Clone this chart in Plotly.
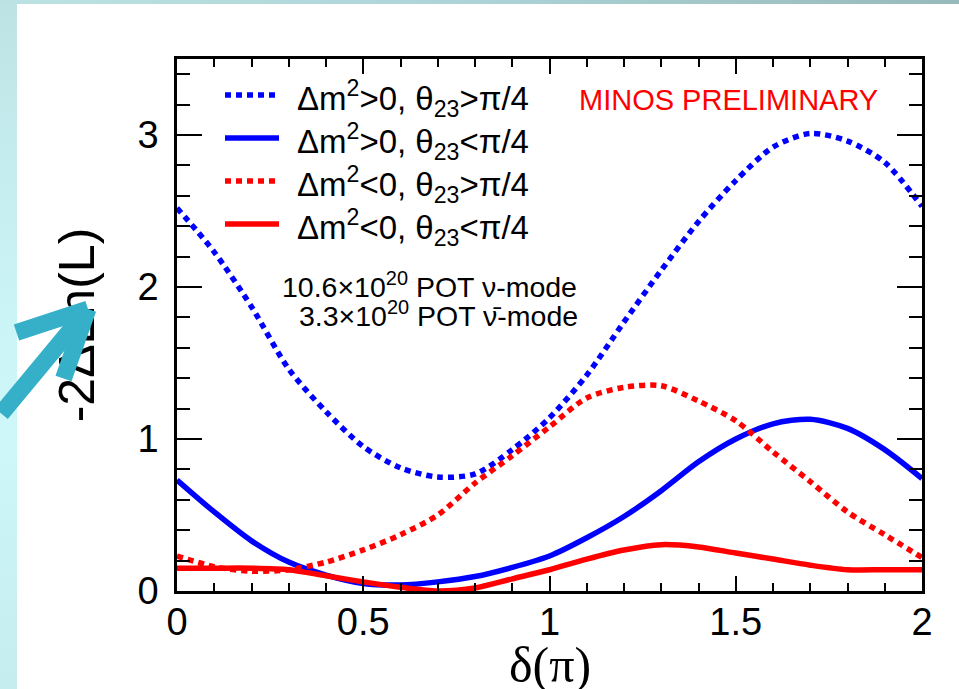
import base64
import plotly.graph_objects as go

# delta_CP in units of pi
delta = [0.0, 0.1, 0.2, 0.3, 0.4, 0.5, 0.6, 0.7, 0.8, 0.9, 1.0,
         1.1, 1.2, 1.3, 1.4, 1.5, 1.6, 1.7, 1.8, 1.9, 2.0]

# -2 Delta ln(L) profiles for the four hierarchy / octant combinations
nh_upper = [2.52, 2.23, 1.87, 1.46, 1.18, 0.95, 0.81, 0.75, 0.77, 0.93, 1.14,
            1.42, 1.77, 2.11, 2.43, 2.70, 2.92, 3.01, 2.96, 2.82, 2.53]
nh_lower = [0.73, 0.52, 0.33, 0.19, 0.105, 0.05, 0.04, 0.06, 0.095, 0.155, 0.23,
            0.35, 0.49, 0.66, 0.85, 1.00, 1.10, 1.13, 1.07, 0.93, 0.74]
ih_upper = [0.23, 0.16, 0.13, 0.14, 0.19, 0.27, 0.37, 0.50, 0.71, 0.89, 1.08,
            1.27, 1.34, 1.35, 1.25, 1.12, 0.915, 0.72, 0.52, 0.37, 0.22]
ih_lower = [0.15, 0.15, 0.15, 0.14, 0.10, 0.06, 0.025, 0.0, 0.02, 0.08, 0.14,
            0.21, 0.27, 0.305, 0.29, 0.25, 0.21, 0.17, 0.14, 0.14, 0.14]

series_names = [
    "Δm<sup>2</sup>&gt;0, θ<sub>23</sub>&gt;π/4",
    "Δm<sup>2</sup>&gt;0, θ<sub>23</sub>&lt;π/4",
    "Δm<sup>2</sup>&lt;0, θ<sub>23</sub>&gt;π/4",
    "Δm<sup>2</sup>&lt;0, θ<sub>23</sub>&lt;π/4",
]
series_values = [nh_upper, nh_lower, ih_upper, ih_lower]
series_colors = ["#0000ff", "#0000ff", "#ff0000", "#ff0000"]
series_dash = ["6px,5px", "solid", "6px,5px", "solid"]

x_ticks = [0, 0.5, 1, 1.5, 2]
x_tick_text = ["0", "0.5", "1", "1.5", "2"]
y_ticks = [0, 1, 2, 3]
y_tick_text = ["0", "1", "2", "3"]

# page geometry (pixels)
W, H = 959, 689
L, R, T, B = 177, 37, 59, 98
PW, PH = W - L - R, H - T - B


def px(xp):
    return (xp - L) / PW


def py(yp):
    return (H - B - yp) / PH


fig = go.Figure()

for name, vals, col, dash in zip(series_names, series_values, series_colors, series_dash):
    fig.add_trace(go.Scatter(
        x=delta, y=vals, mode="lines", name=name, showlegend=False,
        line=dict(color=col, width=5.5, dash=dash, shape="spline", smoothing=0.8),
        cliponaxis=False,
    ))

# slide backdrop: thin gradient bar on top, tinted band down the left edge
backdrop_svg = (
    "<svg xmlns='http://www.w3.org/2000/svg' width='959' height='689' "
    "viewBox='0 0 959 689' preserveAspectRatio='none'>"
    "<defs>"
    "<linearGradient id='t' x1='0' x2='1' y1='0' y2='0'>"
    "<stop offset='0' stop-color='#bde2e4'/><stop offset='0.5' stop-color='#acd3d6'/>"
    "<stop offset='1' stop-color='#98b9bb'/></linearGradient>"
    "<linearGradient id='l' x1='0' x2='0' y1='0' y2='1'>"
    "<stop offset='0' stop-color='#bee3e5'/><stop offset='0.45' stop-color='#cbf4f6'/>"
    "<stop offset='0.65' stop-color='#cdf7f9'/><stop offset='1' stop-color='#c5ecee'/>"
    "</linearGradient></defs>"
    "<rect x='0' y='0' width='17' height='689' fill='url(#l)'/>"
    "<rect x='0' y='0' width='959' height='4' fill='url(#t)'/>"
    "</svg>"
)
backdrop_uri = "data:image/svg+xml;base64," + base64.b64encode(backdrop_svg.encode()).decode()

images = [dict(source=backdrop_uri, xref="paper", yref="paper",
               x=px(0), y=py(0), sizex=W / PW, sizey=H / PH,
               xanchor="left", yanchor="top", sizing="stretch", layer="below")]

shapes = []
annotations = []

# legend: sample line + label for each curve
legend_y = [95, 138, 181, 224]
for name, col, dash, yy in zip(series_names, series_colors, series_dash, legend_y):
    shapes.append(dict(type="line", xref="paper", yref="paper",
                       x0=px(225), x1=px(279), y0=py(yy), y1=py(yy),
                       line=dict(color=col, width=5.5, dash=dash)))
    annotations.append(dict(text=name, xref="paper", yref="paper",
                            x=px(295), y=py(yy + 3), xanchor="left", yanchor="middle",
                            showarrow=False,
                            font=dict(family="Liberation Sans", size=33, color="black")))

annotations += [
    dict(text="MINOS PRELIMINARY", xref="paper", yref="paper",
         x=px(728), y=py(100), xanchor="center", yanchor="middle", showarrow=False,
         font=dict(family="Liberation Sans", size=29, color="#ff0000")),
    dict(text="10.6×10<sup>20</sup> POT ν-mode", xref="paper", yref="paper",
         x=px(579), y=py(285), xanchor="right", yanchor="middle", showarrow=False,
         font=dict(family="Liberation Sans", size=28.5, color="black")),
    dict(text="3.3×10<sup>20</sup> POT ν\u0304-mode", xref="paper", yref="paper",
         x=px(580), y=py(314), xanchor="right", yanchor="middle", showarrow=False,
         font=dict(family="Liberation Sans", size=28.5, color="black")),
    dict(text="δ(π)", xref="paper", yref="paper",
         x=0.5, y=py(665), xanchor="center", yanchor="middle", showarrow=False,
         font=dict(family="Liberation Serif", size=50, color="black")),
]

# pointer arrow over the y-axis title
arrow_color = "#35b0c8"
tip = (88, 309)
for tail in [(-6, 415), (15, 333), (63, 380)]:
    annotations.append(dict(
        text="", xref="paper", yref="paper", x=px(tip[0]), y=py(tip[1]),
        ax=tail[0] - tip[0], ay=tail[1] - tip[1], axref="pixel", ayref="pixel",
        showarrow=True, arrowhead=0, arrowwidth=17, arrowcolor=arrow_color,
        standoff=0, startstandoff=0,
    ))

axis_common = dict(showline=True, linecolor="black", linewidth=2.5, mirror="ticks",
                   ticks="inside", tickcolor="black", tickwidth=1.5,
                   showgrid=False, zeroline=False,
                   tickfont=dict(family="Liberation Sans", size=38, color="black"))

fig.update_layout(
    width=W, height=H,
    margin=dict(l=L, r=R, t=T, b=B, pad=0),
    paper_bgcolor="white", plot_bgcolor="white",
    showlegend=False,
    xaxis=dict(range=[0, 2], tickvals=x_ticks, ticktext=x_tick_text, ticklen=15,
               minor=dict(dtick=0.1, ticklen=8, ticks="inside", tickcolor="black",
                          tickwidth=1.5, showgrid=False),
               ticklabelstandoff=-4,
               **axis_common),
    yaxis=dict(range=[0, 3.5], tickvals=y_ticks, ticktext=y_tick_text, ticklen=25,
               minor=dict(dtick=0.2, ticklen=13, ticks="inside", tickcolor="black",
                          tickwidth=1.5, showgrid=False),
               ticklabelstandoff=8,
               title=dict(text="-2ΔLn(L)", standoff=28,
                          font=dict(family="Liberation Sans", size=50, color="black")),
               **axis_common),
    images=images,
    shapes=shapes,
    annotations=annotations,
)

fig.write_html("out.html", config={"displayModeBar": False})
